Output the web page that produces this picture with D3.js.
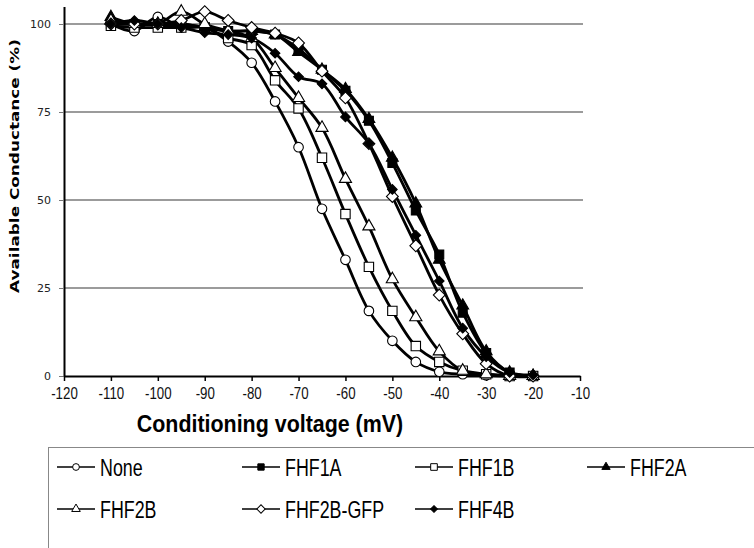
<!DOCTYPE html>
<html>
<head>
<meta charset="utf-8">
<script src="https://cdn.jsdelivr.net/npm/d3@7"></script>
<style>
body { margin: 0; background: #fff; }
svg { display: block; }
</style>
</head>
<body>
<svg id="chart"></svg>
<script>
// conditioning voltages (mV)
const voltages = [-110, -105, -100, -95, -90, -85, -80, -75, -70, -65, -60, -55, -50, -45, -40, -35, -30, -25, -20];
const noneVals = [100, 98, 102, 99, 99, 95, 89, 78, 65, 47.5, 33, 18.5, 10, 4, 1.2, 0.5, 0.2, 0, 0];
const fhf1aVals = [100, 100, 100, 100, 99, 98, 98, 97, 93, 87, 81, 72.5, 60.5, 47, 34.5, 18, 6.5, 1, 0];
const fhf1bVals = [99.5, 99, 99, 99, 99, 96, 94, 84, 76, 62, 46, 31, 18.5, 8.5, 4, 1.5, 0.5, 0, 0];
const fhf2aVals = [102, 100, 100, 100, 99, 98, 98, 97, 92, 87, 81.5, 73, 62, 49, 33, 20, 7, 1, 0];
const fhf2bVals = [101, 100, 100, 103.5, 100, 98, 96, 87.5, 79, 70.5, 56, 42.5, 27.5, 16.7, 7, 1.5, 0.5, 0, 0];
const gfpVals = [100, 100, 100, 101, 103.5, 101, 99, 97.4, 94.6, 86.6, 79, 66, 51, 37, 23, 12, 3.5, 0, 0];
const fhf4bVals = [100, 101, 100, 99, 97.5, 97, 96, 91.7, 85, 83, 73.6, 66, 53, 40, 27, 13.6, 5.5, 1, 0.3];

const seriesNames = ["None", "FHF1A", "FHF1B", "FHF2A", "FHF2B", "FHF2B-GFP", "FHF4B"];
const seriesVals = [noneVals, fhf1aVals, fhf1bVals, fhf2aVals, fhf2bVals, gfpVals, fhf4bVals];
const xTicks = [-120, -110, -100, -90, -80, -70, -60, -50, -40, -30, -20, -10];
const yTicks = [0, 25, 50, 75, 100];

// marker style per series
const markers = [
    { type: d3.symbolCircle, size: 72, fill: "#fff", rot: 0 },
    { type: d3.symbolSquare, size: 80, fill: "#000", rot: 0 },
    { type: d3.symbolSquare, size: 88, fill: "#fff", rot: 0 },
    { type: d3.symbolTriangle, size: 60, fill: "#000", rot: 0 },
    { type: d3.symbolTriangle, size: 64, fill: "#fff", rot: 0 },
    { type: d3.symbolSquare, size: 70, fill: "#fff", rot: 45 },
    { type: d3.symbolSquare, size: 46, fill: "#000", rot: 45 }
];

const width = 754, height = 548;

const svg = d3.select("#chart")
    .attr("width", width)
    .attr("height", height);

svg.append("rect").attr("width", width).attr("height", height).attr("fill", "#fff");

const x = d3.scaleLinear()
    .domain([-120, -10])
    .range([64, 580]);
const y = d3.scaleLinear()
    .domain([0, 105])
    .range([376, 376 - 105 * 3.52]);

// gridlines
svg.append("g")
    .selectAll("line")
    .data(yTicks.filter(d => d > 0))
    .join("line")
    .attr("x1", x(-120))
    .attr("x2", x(-10) + 3)
    .attr("y1", d => y(d))
    .attr("y2", d => y(d))
    .attr("stroke", "#7a7a7a")
    .attr("stroke-width", 1.3);

// y axis
const yAxis = svg.append("g")
    .attr("transform", `translate(${x(-120)},0)`)
    .call(d3.axisLeft(y).tickValues(yTicks).tickSize(5).tickPadding(8).tickSizeOuter(0));
yAxis.select(".domain").attr("stroke", "#000").attr("stroke-width", 2);
yAxis.selectAll(".tick line").attr("stroke", "#777");
yAxis.selectAll("text")
    .style("font-family", "DejaVu Sans, Verdana, sans-serif")
    .style("font-size", "11px")
    .attr("fill", "#222");

// x axis
const xAxis = svg.append("g")
    .attr("transform", `translate(0,${y(0)})`)
    .call(d3.axisBottom(x).tickValues(xTicks).tickFormat(d => String(d)).tickSize(5).tickPadding(5).tickSizeOuter(0));
xAxis.select(".domain").attr("stroke", "#000").attr("stroke-width", 2);
xAxis.selectAll(".tick line").attr("stroke", "#000").attr("stroke-width", 1.5);
xAxis.selectAll("text")
    .attr("transform", "scale(0.95,1.15)")
    .style("font-family", "Liberation Sans, Arial, sans-serif")
    .style("font-size", "14px")
    .attr("fill", "#111");

// lines
const line = d3.line()
    .x((d, i) => x(voltages[i]))
    .y(d => y(d))
    .curve(d3.curveCatmullRom.alpha(0.5));

svg.append("g")
    .selectAll("path")
    .data(seriesVals)
    .join("path")
    .attr("d", d => line(d))
    .attr("fill", "none")
    .attr("stroke", "#000")
    .attr("stroke-width", 2.8);

// markers
seriesVals.forEach((vals, s) => {
    const m = markers[s];
    svg.append("g")
        .selectAll("path")
        .data(vals)
        .join("path")
        .attr("d", d3.symbol().type(m.type).size(m.size))
        .attr("transform", (d, i) => `translate(${x(voltages[i])},${y(d)}) rotate(${m.rot})`)
        .attr("fill", m.fill)
        .attr("stroke", "#000")
        .attr("stroke-width", 1.1);
});

// axis titles
svg.append("text")
    .attr("transform", "translate(270,432) scale(1.02,1.15)")
    .attr("text-anchor", "middle")
    .style("font-family", "Liberation Sans, Arial, sans-serif")
    .style("font-weight", "bold")
    .style("font-size", "21px")
    .text("Conditioning voltage (mV)");

svg.append("text")
    .attr("transform", "translate(19,166) rotate(-90) scale(1.35,1)")
    .attr("text-anchor", "middle")
    .style("font-family", "DejaVu Sans, Verdana, sans-serif")
    .style("font-weight", "bold")
    .style("font-size", "12.5px")
    .text("Available Conductance (%)");

// legend
svg.append("rect")
    .attr("x", 48.5)
    .attr("y", 447.5)
    .attr("width", 720)
    .attr("height", 140)
    .attr("fill", "none")
    .attr("stroke", "#888")
    .attr("stroke-width", 1);

const legendCols = [57, 242, 415, 587];
const legendRows = [467, 509];
seriesNames.forEach((name, i) => {
    const m = markers[i];
    const lx = legendCols[i % 4];
    const ly = legendRows[Math.floor(i / 4)];
    const g = svg.append("g").attr("transform", `translate(${lx},${ly})`);
    g.append("line")
        .attr("x1", 0).attr("x2", 38)
        .attr("stroke", "#000")
        .attr("stroke-width", 1.6);
    g.append("path")
        .attr("d", d3.symbol().type(m.type).size(m.size * 0.5))
        .attr("transform", `translate(19,0) rotate(${m.rot})`)
        .attr("fill", m.fill)
        .attr("stroke", "#000")
        .attr("stroke-width", 1);
    g.append("text")
        .attr("transform", "translate(43,9) scale(0.76,1)")
        .style("font-family", "Liberation Sans, Arial, sans-serif")
        .style("font-size", "23.5px")
        .text(name);
});
</script>
</body>
</html>
